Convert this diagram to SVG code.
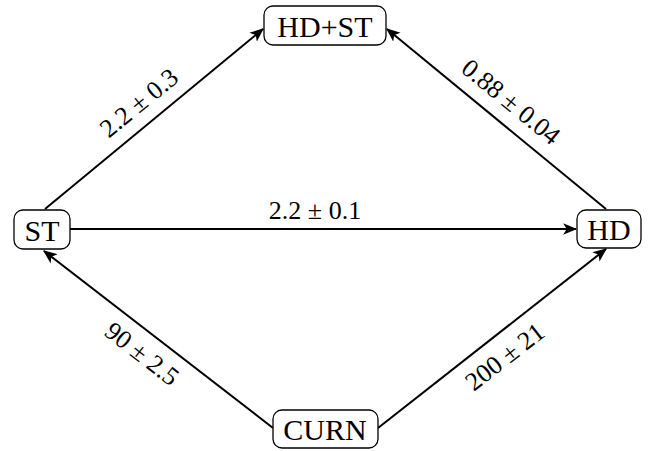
<svg xmlns="http://www.w3.org/2000/svg" width="655" height="451" viewBox="0 0 655 451">
<style>
.node rect{fill:#fff;stroke:#000;stroke-width:1.3}
.node text{font-family:"Liberation Serif","DejaVu Serif",serif;font-size:30px;text-anchor:middle;dominant-baseline:central;fill:#000}
.edge{stroke:#000;stroke-width:2;fill:none;marker-end:url(#arr)}
.lbl{font-family:"Liberation Serif","DejaVu Serif",serif;font-size:26px;text-anchor:middle;dominant-baseline:central;fill:#000}
</style>
<defs>
<marker id="arr" viewBox="0 0 12 10" refX="11" refY="5" markerWidth="7" markerHeight="6" orient="auto" markerUnits="strokeWidth">
<path d="M0,0 L12,5 L0,10 L3,5 Z" fill="#000"/>
</marker>
</defs>
<rect width="655" height="451" fill="#fff"/>
<g id="connectors">
<line class="edge" x1="45" y1="209" x2="263" y2="29"/>
<line class="edge" x1="606" y1="209" x2="387" y2="29"/>
<line class="edge" x1="70" y1="229" x2="576" y2="229"/>
<line class="edge" x1="273" y1="428" x2="44" y2="251"/>
<line class="edge" x1="378" y1="428" x2="606" y2="249"/>
<text class="lbl" transform="translate(139,103) rotate(-39.3)">2.2 ± 0.3</text>
<text class="lbl" transform="translate(511,102) rotate(39.3)">0.88 ± 0.04</text>
<text class="lbl" x="315" y="210">2.2 ± 0.1</text>
<text class="lbl" transform="translate(142,354) rotate(38)">90 ± 2.5</text>
<text class="lbl" transform="translate(505,357) rotate(-38)">200 ± 21</text>
</g>
<g id="node-hdst" class="node">
<rect x="264" y="6" width="122" height="39" rx="9"/>
<text x="325" y="26">HD+ST</text>
</g>
<g id="node-st" class="node">
<rect x="14" y="210" width="56" height="39" rx="9"/>
<text x="42" y="230">ST</text>
</g>
<g id="node-hd" class="node">
<rect x="577" y="210" width="64" height="38" rx="9"/>
<text x="609" y="229">HD</text>
</g>
<g id="node-curn" class="node">
<rect x="273" y="410" width="105" height="38" rx="9"/>
<text x="325" y="429">CURN</text>
</g>
</svg>
